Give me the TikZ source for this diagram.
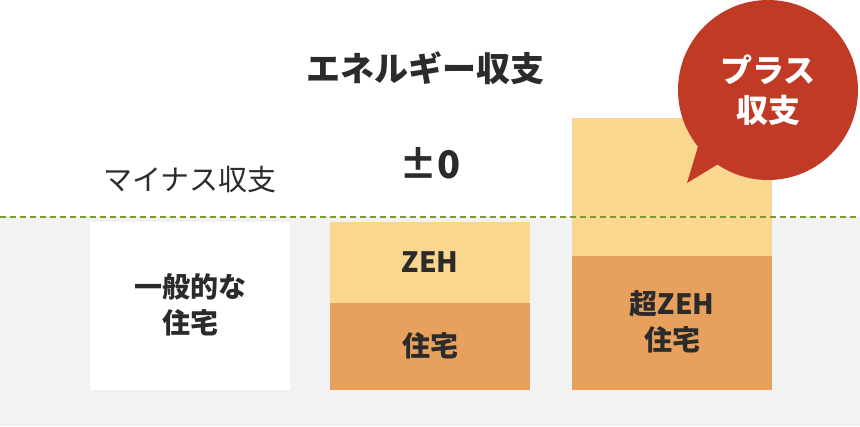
\documentclass[tikz,border=0pt]{standalone}
\usepackage{fontspec}
\setmainfont{Noto Sans CJK JP}
\definecolor{lightor}{HTML}{FAD78F}
\definecolor{darkor}{HTML}{E8A15C}
\definecolor{bgray}{HTML}{F2F2F2}
\definecolor{redb}{HTML}{C03A25}
\definecolor{dgreen}{HTML}{7A9A2A}
\definecolor{txt}{HTML}{2B2B2B}
\begin{document}
\begin{tikzpicture}[x=1pt,y=-1pt,
  lbl/.style={font=\bfseries\fontsize{28}{36}\selectfont,text=txt,align=center,inner sep=0}]
\useasboundingbox (0,0) rectangle (860,426);
\fill[white] (0,0) rectangle (860,426);
\fill[bgray] (0,217) rectangle (860,426);
\fill[white] (90,222) rectangle (290,390);
\fill[lightor] (330,222) rectangle (530,303);
\fill[darkor] (330,303) rectangle (530,390);
\fill[lightor] (572,118) rectangle (772,256);
\fill[darkor] (572,256) rectangle (772,390);
\draw[dgreen,dashed,line width=1.5pt,dash pattern=on 6pt off 4pt] (0,217) -- (860,217);
\node[lbl] (t1) at (190,305) {一般的な\\住宅};
\node[lbl] (t2) at (430,262) {ZEH};
\node[lbl] (t3) at (430,346) {住宅};
\node[lbl] (t4) at (672,322) {超ZEH\\住宅};
\node[font=\bfseries\fontsize{34}{40}\selectfont,text=txt] (title) at (425,68) {エネルギー収支};
\node[font=\fontsize{29}{36}\selectfont,text=txt] (minus) at (190,180) {マイナス収支};
\node[font=\bfseries\fontsize{38}{44}\selectfont,text=txt] (zero) at (430,163) {±0};
\fill[redb] (768,90) circle (90);
\fill[redb] (700,140) -- (687,183) -- (725,160) -- cycle;
\node[font=\bfseries\fontsize{32}{40}\selectfont,text=white,align=center] (plus) at (768,90) {プラス\\収支};
\end{tikzpicture}
\end{document}
